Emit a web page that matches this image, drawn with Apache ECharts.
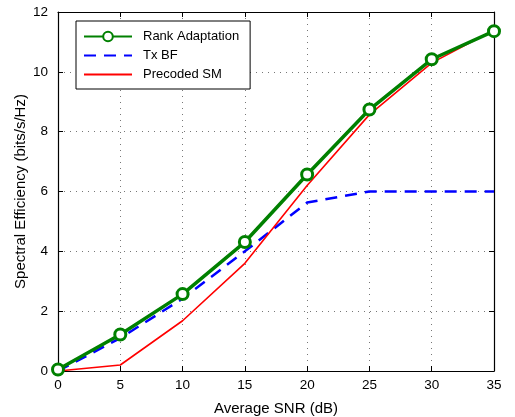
<!DOCTYPE html>
<html><head><meta charset="utf-8">
<script src="https://cdn.jsdelivr.net/npm/echarts@6/dist/echarts.min.js"></script>
<style>html,body{margin:0;padding:0;background:#fff}#c{width:515px;height:417px}</style>
</head><body><div id="c"></div>
<script>
var snr = [0, 5, 10, 15, 20, 25, 30, 35];
var rankAdaptation = [0.05, 1.22, 2.57, 4.31, 6.57, 8.74, 10.42, 11.36];
var txBF = [0.0, 1.1, 2.42, 4.0, 5.63, 6.0, 6.0, 6.0];
var precodedSM = [0.0, 0.2, 1.68, 3.6, 6.2, 8.57, 10.3, 11.4];
var xTicks = [0, 5, 10, 15, 20, 25, 30, 35];
var yTicks = [0, 2, 4, 6, 8, 10, 12];

function pairs(ys){ return snr.map(function(x,i){ return [x, ys[i]]; }); }
var font = 'Liberation Sans, Arial, sans-serif';
var chart = echarts.init(document.getElementById('c'), null, {renderer:'canvas'});
var baseX = {
  type:'value', min:xTicks[0], max:xTicks[xTicks.length-1], interval:xTicks[1]-xTicks[0],
  axisLine:{show:true, onZero:false, lineStyle:{color:'#000', width:1.2}},
  axisTick:{show:true, inside:true, length:5, lineStyle:{color:'#000'}},
  axisLabel:{show:true, color:'#000', fontFamily:font, fontSize:13.5, margin:7},
  splitLine:{show:false}
};
var baseY = {
  type:'value', min:yTicks[0], max:yTicks[yTicks.length-1], interval:yTicks[1]-yTicks[0],
  axisLine:{show:true, onZero:false, lineStyle:{color:'#000', width:1.2}},
  axisTick:{show:true, inside:true, length:5, lineStyle:{color:'#000'}},
  axisLabel:{show:true, color:'#000', fontFamily:font, fontSize:13.5, margin:10},
  splitLine:{show:false}
};
var hideSym = {opacity:0};
chart.setOption({
  animation:false,
  backgroundColor:'#fff',
  grid:{left:58, right:21, top:12, bottom:46, containLabel:false, outerBoundsMode:'none'},
  legend:{
    orient:'vertical', left:76, top:21,
    data:[
      {name:'Rank Adaptation'},
      {name:'Tx BF', itemStyle:hideSym},
      {name:'Precoded SM', itemStyle:hideSym}
    ],
    itemWidth:48, itemHeight:12, itemGap:6,
    padding:[9,11,8,7],
    borderColor:'#000', borderWidth:1, backgroundColor:'#fff',
    textStyle:{color:'#000', fontFamily:font, fontSize:13, padding:[0,0,0,6]}
  },
  xAxis:[
    Object.assign({}, baseX, {
      position:'bottom',
      name:'Average SNR (dB)', nameLocation:'middle', nameGap:30, nameMoveOverlap:false,
      nameTextStyle:{color:'#000', fontFamily:font, fontSize:15},
      splitLine:{show:true, lineStyle:{color:'#777', type:[1,5], width:1}}
    }),
    Object.assign({}, baseX, {position:'top', axisLabel:{show:false}})
  ],
  yAxis:[
    Object.assign({}, baseY, {
      position:'left',
      name:'Spectral Efficiency (bits/s/Hz)', nameLocation:'middle', nameGap:30, nameMoveOverlap:false,
      nameTextStyle:{color:'#000', fontFamily:font, fontSize:15},
      splitLine:{show:true, lineStyle:{color:'#777', type:[1,5], width:1}}
    }),
    Object.assign({}, baseY, {position:'right', axisLabel:{show:false}})
  ],
  series:[
    {name:'Tx BF', type:'line', data:pairs(txBF), symbol:'none', z:2,
     lineStyle:{color:'#0000ff', width:2.5, type:[12,8]}, itemStyle:{color:'#0000ff'}},
    {name:'Precoded SM', type:'line', data:pairs(precodedSM), symbol:'none', z:3,
     lineStyle:{color:'#ff0000', width:1.6}, itemStyle:{color:'#ff0000'}},
    {name:'Rank Adaptation', type:'line', data:pairs(rankAdaptation), z:4,
     symbol:'circle', symbolSize:11, showAllSymbol:true,
     lineStyle:{color:'#008000', width:3.5},
     itemStyle:{color:'#fff', borderColor:'#008000', borderWidth:3}}
  ]
});
</script></body></html>
